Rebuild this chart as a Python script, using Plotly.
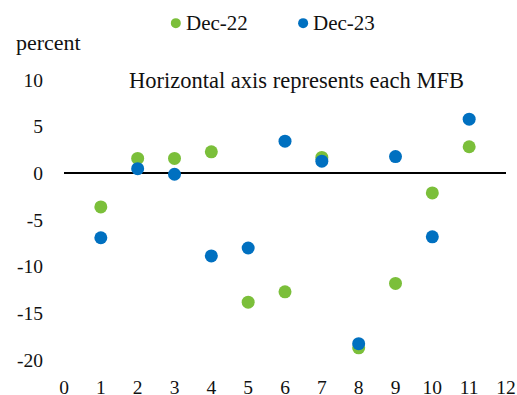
import plotly.graph_objects as go

# MFB index on the horizontal axis
mfb = [1, 2, 3, 4, 5, 6, 7, 8, 9, 10, 11]

# percent values per MFB
dec22 = [-3.6, 1.6, 1.6, 2.3, -13.8, -12.7, 1.7, -18.7, -11.8, -2.1, 2.85]
dec23 = [-6.9, 0.5, -0.1, -8.85, -8.0, 3.45, 1.3, -18.25, 1.8, -6.8, 5.8]

x_ticks = list(range(0, 13))
y_ticks = [-20, -15, -10, -5, 0, 5, 10]
y_labels = ["-20", "-15", "-10", "-5", "0", "5", "10"]

series_names = ["Dec-22", "Dec-23"]

FONT = "Liberation Serif"
GREEN = "#7BBF3A"
BLUE = "#0070C0"
TEXT = "#111111"

fig = go.Figure()
fig.add_trace(go.Scatter(x=mfb, y=dec22, mode="markers", name=series_names[0],
                         marker=dict(color=GREEN, size=13), showlegend=False))
fig.add_trace(go.Scatter(x=mfb, y=dec23, mode="markers", name=series_names[1],
                         marker=dict(color=BLUE, size=13), showlegend=False))

# legend drawn as small dots with labels above the plot
legend_x = [0.253, 0.541]
legend_y = 1.203
shapes = []
annotations = []
for name, color, lx in zip(series_names, [GREEN, BLUE], legend_x):
    shapes.append(dict(type="circle", xref="paper", yref="paper",
                       xsizemode="pixel", ysizemode="pixel",
                       xanchor=lx, yanchor=legend_y,
                       x0=-5, x1=5, y0=-5, y1=5,
                       fillcolor=color, line=dict(width=0)))
    annotations.append(dict(text=name, xref="paper", yref="paper",
                            x=lx, xshift=8, y=legend_y, xanchor="left",
                            yanchor="middle", showarrow=False,
                            font=dict(size=21, color=TEXT)))

annotations += [
    dict(text="percent", xref="paper", yref="paper", x=-0.036, y=1.134,
         xanchor="center", yanchor="middle", showarrow=False,
         font=dict(size=22, color=TEXT)),
    dict(text="Horizontal axis represents each MFB", xref="paper", yref="paper",
         x=0.525, y=1.0, xanchor="center", yanchor="middle", showarrow=False,
         font=dict(size=22.5, color=TEXT)),
]

fig.update_layout(
    width=517, height=395,
    margin=dict(l=64, r=11, t=79.5, b=35),
    plot_bgcolor="white", paper_bgcolor="white",
    font=dict(family=FONT, size=19.5, color=TEXT),
    showlegend=False,
    xaxis=dict(range=[0, 12], tickvals=x_ticks, showgrid=False, zeroline=False,
               showline=False, ticks="", ticklabelstandoff=13,
               automargin=False, fixedrange=True),
    yaxis=dict(range=[-20, 10], tickvals=y_ticks, ticktext=y_labels,
               showgrid=False, zeroline=True, zerolinecolor="black",
               zerolinewidth=2, showline=False, ticks="",
               ticklabelstandoff=20, automargin=False, fixedrange=True),
    shapes=shapes,
    annotations=annotations,
)

fig.write_html("out.html")
